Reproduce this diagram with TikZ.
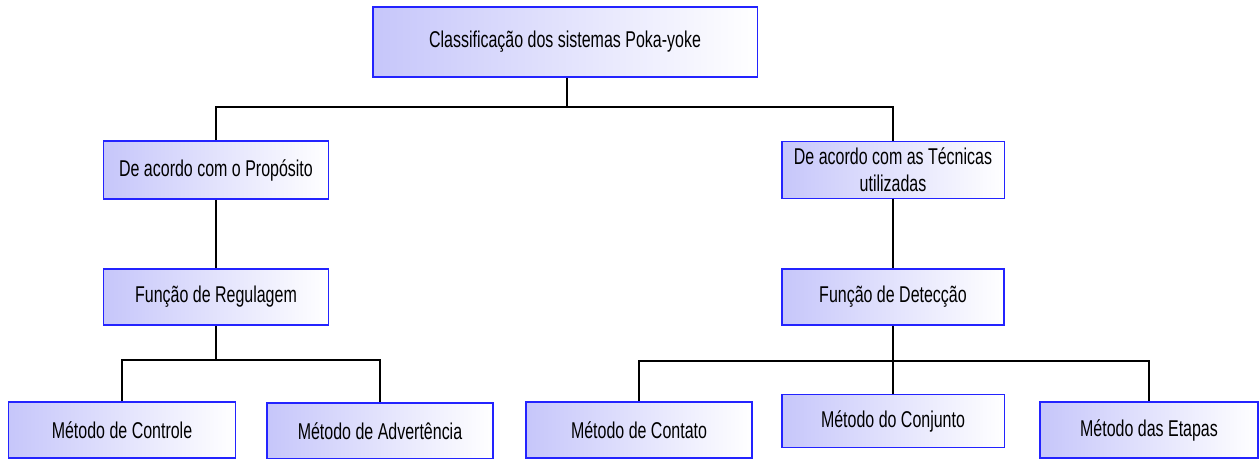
\documentclass[tikz,border=0pt]{standalone}
\usepackage{fontspec}
\setmainfont{Liberation Sans}[FakeStretch=0.7]
\usepackage{xcolor}
\usepackage{tikz}
\usetikzlibrary{positioning,calc}

\definecolor{pyborder}{RGB}{35,35,255}
\definecolor{pyfill}{RGB}{198,198,250}

\tikzset{
    pybox/.style={draw=pyborder, line width=1.1pt, left color=pyfill, right color=white,
        align=center, inner sep=0pt, font=\fontsize{13}{15.5}\selectfont},
    pyline/.style={draw=black, line width=0.8pt}
}

\begin{document}
\begin{tikzpicture}[x=0.02cm,y=-0.02cm]
    \useasboundingbox (0,0) rectangle (1260,459);

    % Topo
    \node[pybox, minimum width=7.7cm, minimum height=1.4cm] (cls) at (565,42) {Classificação dos sistemas Poka-yoke};

    % Segundo nivel
    \node[pybox, minimum width=4.5cm, minimum height=1.16cm] (prop) at (216,170) {De acordo com o Propósito};
    \node[pybox, minimum width=4.46cm, minimum height=1.14cm] (tec) at (893,170) {De acordo com as Técnicas\\utilizadas};

    % Funcoes
    \node[pybox, minimum width=4.5cm, minimum height=1.12cm] (reg) at (216,297) {Função de Regulagem};
    \node[pybox, minimum width=4.44cm, minimum height=1.12cm] (det) at (893,297) {Função de Detecção};

    % Metodos
    \node[pybox, minimum width=4.54cm, minimum height=1.12cm] (ctrl) at (122,430) {Método de Controle};
    \node[pybox, minimum width=4.52cm, minimum height=1.12cm] (adv) at (380,431) {Método de Advertência};
    \node[pybox, minimum width=4.52cm, minimum height=1.12cm] (cont) at (639,430) {Método de Contato};
    \node[pybox, minimum width=4.46cm, minimum height=1.06cm] (conj) at (893,421) {Método do Conjunto};
    \node[pybox, minimum width=4.36cm, minimum height=1.12cm] (etap) at (1149,430) {Método das Etapas};

    % Ligacoes
    \coordinate (j1) at (567,107);
    \coordinate (j2) at (216,360);
    \coordinate (j3) at (893,361);

    \draw[pyline] (cls.south -| j1) -- (j1);
    \draw[pyline] (prop.north) |- (j1) -| (tec.north);
    \draw[pyline] (prop) -- (reg);
    \draw[pyline] (tec) -- (det);

    \draw[pyline] (reg.south) -- (j2);
    \draw[pyline] (ctrl.north) |- (j2) -| (adv.north);

    \draw[pyline] (det.south) -- (j3);
    \draw[pyline] (j3) -- (conj.north);
    \draw[pyline] (cont.north) |- (j3) -| (etap.north);
\end{tikzpicture}
\end{document}
